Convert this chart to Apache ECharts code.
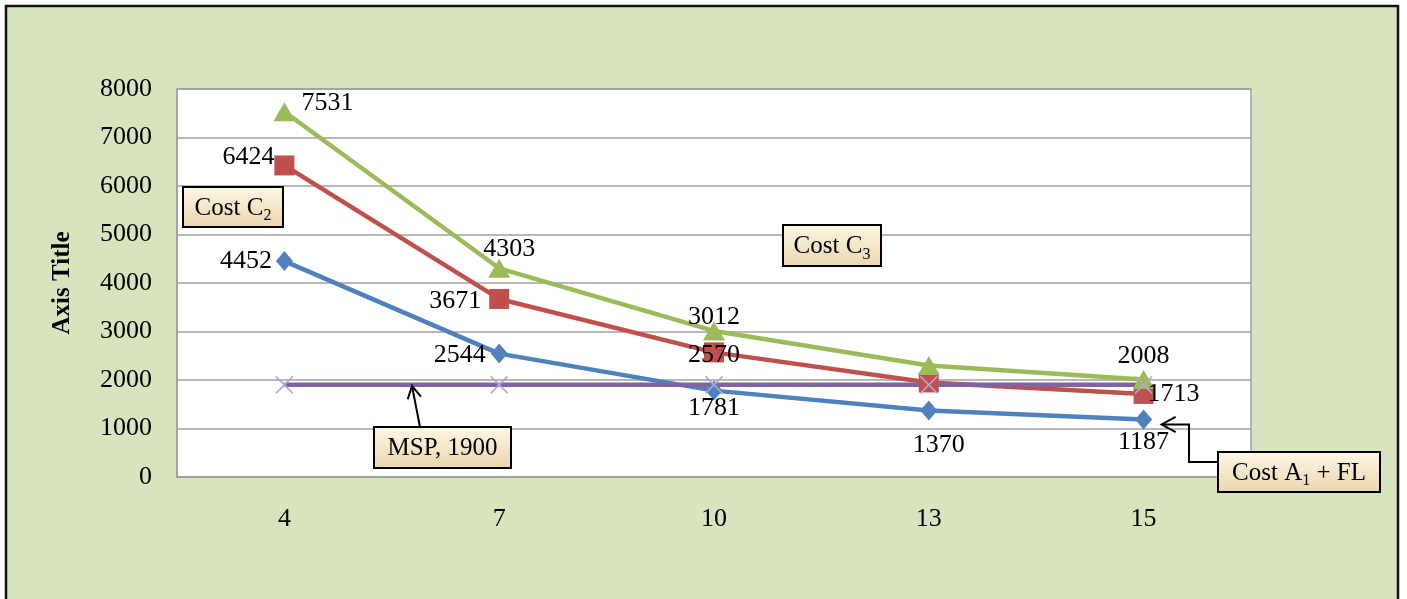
<!DOCTYPE html>
<html>
<head>
<meta charset="utf-8">
<script src="https://cdn.jsdelivr.net/npm/echarts@6/dist/echarts.min.js"></script>
<style>
html,body{margin:0;padding:0;background:#fff;}
#c{width:1407px;height:599px;}
</style>
</head>
<body>
<div id="c"></div>
<script>
// ---- data ----
const categories = ['4', '7', '10', '13', '15'];
const costA1FL = [4452, 2544, 1781, 1370, 1187];
const costC2 = [6424, 3671, 2570, 1950, 1713];
const costC3 = [7531, 4303, 3012, 2300, 2008];
const msp = [1900, 1900, 1900, 1900, 1900];
const yTicks = { min: 0, max: 8000, interval: 1000 };

// ---- styling ----
const FONT = 'Liberation Serif';
const FS = 26;
const labelBase = { show: true, color: '#000', fontFamily: FONT, fontSize: FS };

const blueLabels = [
  { position: 'left', distance: 4 },
  { position: 'left', distance: 5, offset: [0, 2] },
  { position: 'bottom', distance: -5 },
  { position: 'bottom', distance: 12, offset: [10, 0] },
  { position: 'bottom', distance: 0 }
];
const redLabels = [
  { position: 'left', distance: 0, offset: [0, -8] },
  { position: 'left', distance: 8, offset: [0, 2] },
  { position: 'inside', offset: [0, 3] },
  { show: false },
  { position: 'right', distance: -6 }
];
const greenLabels = [
  { position: 'right', distance: 6, offset: [0, -9] },
  { position: 'top', distance: -3, offset: [10, 0] },
  { position: 'top', distance: -9 },
  { show: false },
  { position: 'top', distance: 1 }
];

function withLabels(values, labels) {
  return values.map((v, i) => ({ value: v, label: Object.assign({}, labelBase, labels[i]) }));
}

const chart = echarts.init(document.getElementById('c'), null, { renderer: 'canvas', width: 1407, height: 599 });

const option = {
  backgroundColor: '#D7E4BD',
  animation: false,
  textStyle: { fontFamily: FONT },
  grid: {
    left: 177, top: 89, right: 156, bottom: 122,
    show: true, backgroundColor: '#fff', borderColor: '#A0A0A0', borderWidth: 1.5
  },
  xAxis: {
    type: 'category',
    data: categories,
    boundaryGap: true,
    axisLine: { show: true, lineStyle: { color: '#A0A0A0', width: 1.5 } },
    axisTick: { show: false },
    axisLabel: { color: '#000', fontFamily: FONT, fontSize: FS, margin: 29 },
    splitLine: { show: false }
  },
  yAxis: {
    type: 'value',
    min: yTicks.min, max: yTicks.max, interval: yTicks.interval,
    name: 'Axis Title',
    nameLocation: 'middle',
    nameGap: 102,
    nameRotate: 90,
    nameTextStyle: { color: '#000', fontFamily: FONT, fontSize: 25, fontWeight: 'bold' },
    axisLine: { show: true, lineStyle: { color: '#A0A0A0', width: 1.5 } },
    axisTick: { show: false },
    axisLabel: { color: '#000', fontFamily: FONT, fontSize: FS, margin: 25, formatter: (v) => String(v) },
    splitLine: { show: true, lineStyle: { color: '#A0A0A0', width: 1.5 } }
  },
  series: [
    {
      name: 'Cost A1 + FL', type: 'line',
      data: withLabels(costA1FL, blueLabels),
      symbol: 'diamond', symbolSize: [17, 20],
      lineStyle: { color: '#4F81BD', width: 4.5 },
      itemStyle: { color: '#4F81BD' },
      emphasis: { disabled: true }
    },
    {
      name: 'Cost C2', type: 'line',
      data: withLabels(costC2, redLabels),
      symbol: 'rect', symbolSize: 20,
      lineStyle: { color: '#C0504D', width: 4.5 },
      itemStyle: { color: '#C0504D' },
      emphasis: { disabled: true }
    },
    {
      name: 'Cost C3', type: 'line',
      data: withLabels(costC3, greenLabels),
      symbol: 'triangle', symbolSize: [22, 19],
      lineStyle: { color: '#9BBB59', width: 4.5 },
      itemStyle: { color: '#9BBB59' },
      emphasis: { disabled: true }
    },
    {
      name: 'MSP', type: 'line',
      data: msp,
      symbol: 'path://M0,0L10,10M10,0L0,10', symbolSize: 17,
      lineStyle: { color: '#8064A2', width: 4.5 },
      itemStyle: { color: 'none', borderColor: '#B5A4D3', borderWidth: 1.5 },
      label: { show: false },
      emphasis: { disabled: true }
    }
  ]
};
chart.setOption(option);

// ---- annotations (callouts) ----
const boxFill = new echarts.graphic.LinearGradient(0, 0, 0, 1, [
  { offset: 0, color: '#FFF7E6' },
  { offset: 1, color: '#E9D6AC' }
]);
const rich = {
  a: { fontFamily: FONT, fontSize: 25, color: '#000', lineHeight: 32, verticalAlign: 'middle' },
  s: { fontFamily: FONT, fontSize: 16, color: '#000', lineHeight: 16, verticalAlign: 'bottom' }
};
function callout(x, y, w, h, text) {
  return {
    type: 'group', z: 50,
    children: [
      { type: 'rect', shape: { x: x, y: y, width: w, height: h },
        style: { fill: boxFill, stroke: '#000', lineWidth: 2 }, z: 50 },
      { type: 'text', x: x + w / 2, y: y + h / 2 + 1, z: 51,
        style: { text: text, rich: rich, align: 'center', verticalAlign: 'middle' } }
    ]
  };
}
function arrowHead(tip, from, len) {
  const dx = from[0] - tip[0], dy = from[1] - tip[1];
  const L = Math.sqrt(dx * dx + dy * dy);
  const ux = dx / L, uy = dy / L;
  const ang = 0.5;
  const p1 = [tip[0] + len * (ux * Math.cos(ang) - uy * Math.sin(ang)), tip[1] + len * (ux * Math.sin(ang) + uy * Math.cos(ang))];
  const p2 = [tip[0] + len * (ux * Math.cos(-ang) - uy * Math.sin(-ang)), tip[1] + len * (ux * Math.sin(-ang) + uy * Math.cos(-ang))];
  return { type: 'polyline', z: 52, shape: { points: [p1, tip, p2] }, style: { stroke: '#000', lineWidth: 2, fill: null } };
}

const mspY = chart.convertToPixel({ yAxisIndex: 0 }, msp[0]);
const lastBlue = chart.convertToPixel({ seriesIndex: 0 }, [categories.length - 1, costA1FL[costA1FL.length - 1]]);

const mspTip = [412, mspY + 1];
const mspFrom = [420, 427];
const a1Tip = [lastBlue[0] + 18, lastBlue[1] + 5];

chart.setOption({
  graphic: [
    { type: 'rect', shape: { x: 0, y: 0, width: 1407, height: 5 }, style: { fill: '#fff' }, silent: true },
    { type: 'rect', shape: { x: 0, y: 0, width: 5, height: 599 }, style: { fill: '#fff' }, silent: true },
    { type: 'rect', shape: { x: 1399, y: 0, width: 8, height: 599 }, style: { fill: '#fff' }, silent: true },
    { type: 'rect', shape: { x: 6, y: 6, width: 1392, height: 620 }, style: { fill: null, stroke: '#111', lineWidth: 2.5 }, silent: true },
    callout(183, 187, 100, 40, '{a|Cost C}{s|2}'),
    callout(783, 225, 98, 41, '{a|Cost C}{s|3}'),
    callout(374, 427, 137, 41, '{a|MSP, 1900}'),
    callout(1218, 452, 162, 40, '{a|Cost A}{s|1}{a| + FL}'),
    { type: 'polyline', z: 52, shape: { points: [mspFrom, mspTip] }, style: { stroke: '#000', lineWidth: 2, fill: null } },
    arrowHead(mspTip, mspFrom, 14),
    { type: 'polyline', z: 52, shape: { points: [[1218, 462], [1189, 462], [1189, a1Tip[1]], a1Tip] }, style: { stroke: '#000', lineWidth: 2, fill: null } },
    arrowHead(a1Tip, [1189, a1Tip[1]], 16)
  ]
});
</script>
</body>
</html>
